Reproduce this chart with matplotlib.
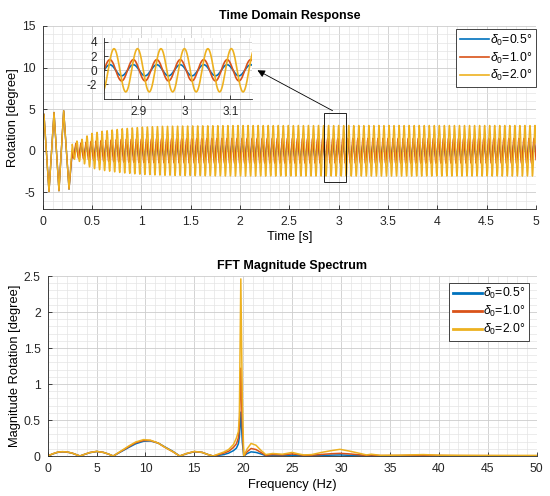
import numpy as np
import matplotlib
matplotlib.use("Agg")
import matplotlib.pyplot as plt
from matplotlib.patches import Rectangle, FancyArrowPatch
from matplotlib.ticker import MultipleLocator, FormatStrFormatter

plt.rcParams["font.family"] = ["Liberation Sans", "DejaVu Sans"]
plt.rcParams["mathtext.fontset"] = "custom"
plt.rcParams["mathtext.rm"] = "Liberation Sans"
plt.rcParams["mathtext.it"] = "Liberation Sans:italic"

# ---- data ----
labels = [r"$\delta_0$=0.5°", r"$\delta_0$=1.0°", r"$\delta_0$=2.0°"]
colors = ["#0072BD", "#D95319", "#EDB120"]

# start-up transient extrema (same for all three cases)
transient_t = [0.0, 0.013, 0.064, 0.115, 0.165, 0.213, 0.267]
transient_y = [0.0, 4.4, -4.9, 4.6, -4.8, 4.8, -4.6]

# oscillation after t = 0.3 s: envelope amplitude, frequency, peak time
osc_freq = 19.6        # Hz
sample_dt = 0.002      # s
env_t = [0.30, 0.35, 0.40, 0.45, 0.50, 0.60, 0.70, 0.80, 1.00, 1.20, 1.50, 2.00, 5.00]
env_05 = [0.60, 0.55, 0.55, 0.60, 0.65, 0.70, 0.72, 0.74, 0.76, 0.77, 0.78, 0.78, 0.78]
env_10 = [0.90, 0.90, 0.95, 1.05, 1.15, 1.25, 1.32, 1.38, 1.43, 1.46, 1.48, 1.50, 1.50]
env_20 = [0.90, 1.20, 1.40, 1.80, 2.10, 2.35, 2.50, 2.65, 2.85, 2.95, 3.00, 3.05, 3.05]
peak_time = [2.991, 2.991, 3.000]

# FFT magnitude spectrum
freq = [0.0, 0.5, 1.0, 1.5, 2.0, 2.5, 3.0, 3.3, 3.8, 4.3, 5.0, 5.7, 6.2, 6.7,
        7.5, 8.3, 9.0, 9.8, 10.5, 11.3, 12.0, 12.8, 13.5, 14.2, 15.0, 15.8,
        16.4, 16.9, 17.5, 18.0, 18.5, 19.0, 19.3, 19.5, 19.6, 19.75, 19.9,
        20.05, 20.4, 20.8, 21.3, 21.8, 22.3, 23.0, 24.0, 25.0, 25.6, 26.2,
        27.0, 28.0, 29.0, 29.9, 30.8, 31.8, 32.6, 33.1, 34.0, 36.0, 38.4,
        40.0, 42.0, 45.0, 48.0, 50.0]
mag_05 = [0.0, 0.028, 0.05, 0.058, 0.054, 0.04, 0.015, 0.0, 0.024, 0.046, 0.062,
          0.05, 0.028, 0.0, 0.06, 0.12, 0.17, 0.205, 0.21, 0.18, 0.125, 0.065,
          0.0, 0.032, 0.06, 0.05, 0.02, 0.0, 0.01, 0.02, 0.04, 0.075, 0.11,
          0.17, 0.26, 0.61, 0.2, 0.0, 0.035, 0.058, 0.05, 0.03, 0.006, 0.01,
          0.006, 0.012, 0.008, 0.004, 0.005, 0.008, 0.012, 0.015, 0.01, 0.006,
          0.003, 0.006, 0.003, 0.004, 0.006, 0.004, 0.003, 0.003, 0.002, 0.002]
mag_10 = [0.0, 0.03, 0.052, 0.06, 0.055, 0.04, 0.015, 0.0, 0.025, 0.048, 0.064,
          0.05, 0.028, 0.0, 0.065, 0.13, 0.185, 0.215, 0.215, 0.18, 0.12, 0.06,
          0.0, 0.034, 0.062, 0.05, 0.02, 0.0, 0.02, 0.04, 0.065, 0.12, 0.17,
          0.25, 0.4, 1.22, 0.4, 0.0, 0.06, 0.105, 0.09, 0.05, 0.01, 0.02,
          0.015, 0.03, 0.02, 0.01, 0.012, 0.022, 0.032, 0.037, 0.03, 0.018,
          0.008, 0.014, 0.006, 0.007, 0.012, 0.007, 0.005, 0.005, 0.004, 0.004]
mag_20 = [0.0, 0.03, 0.053, 0.061, 0.056, 0.04, 0.015, 0.0, 0.025, 0.048, 0.065,
          0.05, 0.028, 0.0, 0.07, 0.14, 0.195, 0.228, 0.22, 0.18, 0.12, 0.06,
          0.0, 0.035, 0.064, 0.05, 0.02, 0.0, 0.03, 0.055, 0.09, 0.16, 0.25,
          0.34, 0.55, 2.46, 0.8, 0.0, 0.1, 0.175, 0.15, 0.08, 0.02, 0.035,
          0.025, 0.05, 0.03, 0.015, 0.02, 0.05, 0.075, 0.093, 0.07, 0.04,
          0.015, 0.025, 0.01, 0.012, 0.02, 0.012, 0.01, 0.008, 0.008, 0.008]


def build_response(env_amp, t_peak):
    t_ss = np.arange(0.30, 5.0 + sample_dt / 2, sample_dt)
    amp = np.interp(t_ss, env_t, env_amp)
    y_ss = amp * np.cos(2 * np.pi * osc_freq * (t_ss - t_peak))
    return (np.concatenate([transient_t, t_ss]),
            np.concatenate([transient_y, y_ss]))


responses = [build_response(e, p) for e, p in zip([env_05, env_10, env_20], peak_time)]
spectra = [mag_05, mag_10, mag_20]

axis_col = "#262626"


def style_axes(ax, xmaj, xmin, ymaj, ymin):
    ax.xaxis.set_major_locator(MultipleLocator(xmaj))
    ax.xaxis.set_minor_locator(MultipleLocator(xmin))
    ax.yaxis.set_major_locator(MultipleLocator(ymaj))
    ax.yaxis.set_minor_locator(MultipleLocator(ymin))
    ax.xaxis.set_major_formatter(FormatStrFormatter("%g"))
    ax.yaxis.set_major_formatter(FormatStrFormatter("%g"))
    ax.grid(True, which="major", color="#cccccc", lw=0.6)
    ax.grid(True, which="minor", color="#e4e4e4", lw=0.5)
    ax.set_axisbelow(True)
    for side in ["top", "right"]:
        ax.spines[side].set_visible(False)
    for side in ["left", "bottom"]:
        ax.spines[side].set_color(axis_col)
        ax.spines[side].set_linewidth(0.6)
    ax.tick_params(which="major", direction="in", length=3, width=0.6,
                   colors=axis_col, labelsize=8.8, pad=5)
    ax.tick_params(which="minor", length=0)


def make_legend(ax, anchor, handle_lw):
    leg = ax.legend(loc="upper right", bbox_to_anchor=anchor,
                    bbox_transform=fig.transFigure, borderaxespad=0,
                    fontsize=8.8, fancybox=False, framealpha=1,
                    edgecolor=axis_col, handlelength=2.4, handletextpad=0.1,
                    labelspacing=0.22, borderpad=0.3)
    leg.get_frame().set_linewidth(0.6)
    for line in leg.get_lines():
        line.set_linewidth(handle_lw)
    return leg


fig = plt.figure(figsize=(5.5, 4.96), dpi=100)

# ---- time domain ----
ax1 = fig.add_axes([0.0776, 0.5786, 0.8969, 0.369])
for (t, y), c, lab in zip(responses, colors, labels):
    ax1.plot(t, y, color=c, lw=1.0, label=lab)
ax1.set_xlim(0, 5)
ax1.set_ylim(-7, 15)
style_axes(ax1, 0.5, 0.1, 5, 1)
ax1.set_title("Time Domain Response", fontsize=9, fontweight="bold", pad=5)
ax1.set_xlabel("Time [s]", fontsize=9.3, labelpad=2)
ax1.set_ylabel("Rotation [degree]", fontsize=9.3, labelpad=2)
ax1.add_patch(Rectangle((2.854, -3.8), 0.223, 8.4, fill=False,
                        edgecolor="black", lw=0.6, zorder=5))
make_legend(ax1, (0.9745, 0.9415), 1.2)

# inset zoom
axin = fig.add_axes([0.189, 0.801, 0.27, 0.1218])
for (t, y), c in zip(responses, colors):
    axin.plot(t, y, color=c, lw=1.2)
axin.set_xlim(2.825, 3.148)
axin.set_ylim(-4, 4.5)
style_axes(axin, 0.1, 0.02, 2, 1)
axin.tick_params(labelsize=8.5)
axin.set_xticks([2.9, 3.0, 3.1])
axin.set_yticks([-2, 0, 2, 4])

arrow = FancyArrowPatch((335 / 550, 1 - 112 / 496), (255 / 550, 1 - 69 / 496),
                        transform=fig.transFigure, arrowstyle="-|>",
                        mutation_scale=11, color="black", lw=0.6)
fig.add_artist(arrow)

# ---- FFT ----
ax2 = fig.add_axes([0.0867, 0.0806, 0.889, 0.3629])
for m, c, lab in zip(spectra, colors, labels):
    ax2.plot(freq, m, color=c, lw=1.1, label=lab)
ax2.set_xlim(0, 50)
ax2.set_ylim(0, 2.5)
style_axes(ax2, 5, 1, 0.5, 0.1)
ax2.set_title("FFT Magnitude Spectrum", fontsize=9, fontweight="bold", pad=5)
ax2.set_xlabel("Frequency (Hz)", fontsize=9.3, labelpad=3)
ax2.set_ylabel("Magnitude Rotation [degree]", fontsize=9.3, labelpad=2)
make_legend(ax2, (0.9618, 0.43), 2.0)

fig.savefig("out.png", dpi=100)
